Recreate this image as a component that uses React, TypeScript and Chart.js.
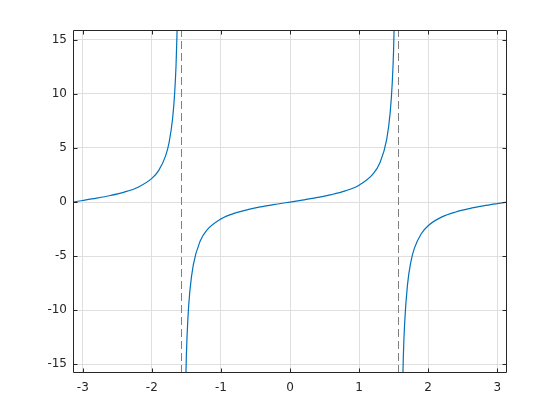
import React, { useEffect, useRef } from "react";
import { Chart, registerables } from "chart.js";

Chart.register(...registerables);

// Left branch (-pi .. -pi/2)
const leftX = [-3.1416, -3.0, -2.8, -2.6, -2.4, -2.2, -2.0, -1.9, -1.8, -1.75, -1.7, -1.67, -1.65, -1.63];
const leftY = [0, 0.1425, 0.3555, 0.6016, 0.916, 1.3738, 2.185, 2.927, 4.286, 5.52, 7.697, 10.05, 12.6, 16.87];
// Middle branch (-pi/2 .. pi/2)
const midX = [-1.52, -1.5, -1.48, -1.45, -1.4, -1.3, -1.2, -1.0, -0.8, -0.6, -0.4, -0.2, 0, 0.2, 0.4, 0.6, 0.8, 1.0, 1.2, 1.3, 1.4, 1.45, 1.48, 1.5, 1.52];
const midY = [-19.67, -14.1, -10.98, -8.238, -5.798, -3.602, -2.572, -1.557, -1.03, -0.684, -0.423, -0.203, 0, 0.203, 0.423, 0.684, 1.03, 1.557, 2.572, 3.602, 5.798, 8.238, 10.98, 14.1, 19.67];
// Right branch (pi/2 .. pi)
const rightX = [1.62, 1.64, 1.66, 1.7, 1.75, 1.8, 1.9, 2.0, 2.2, 2.4, 2.6, 2.8, 3.0, 3.1416];
const rightY = [-20.3, -14.43, -11.18, -7.697, -5.52, -4.286, -2.927, -2.185, -1.374, -0.916, -0.602, -0.356, -0.1425, 0];
// Vertical asymptotes
const asymptotes = [-1.5708, 1.5708];

const xTicks = [-3, -2, -1, 0, 1, 2, 3];
const yTicks = [-15, -10, -5, 0, 5, 10, 15];
const xRange = [-3.1416, 3.1416];
const yRange = [-15.8, 15.9];

const pts = (xs: number[], ys: number[]) => xs.map((x, i) => ({ x, y: ys[i] }));

const AXIS = "#262626";
const BLUE = "#0072BD";

const boxPlugin = {
  id: "boxTicks",
  afterDraw(chart: any) {
    const { ctx, chartArea: a, scales } = chart;
    ctx.save();
    ctx.strokeStyle = AXIS;
    ctx.lineWidth = 1;
    ctx.beginPath();
    const L = Math.round(a.left) + 0.5, R = Math.round(a.right) - 0.5;
    const T = Math.round(a.top) + 0.5, B = Math.round(a.bottom) - 0.5;
    ctx.rect(L, T, R - L, B - T);
    const tl = 4;
    for (const v of xTicks) {
      const px = Math.round(scales.x.getPixelForValue(v)) + 0.5;
      ctx.moveTo(px, B); ctx.lineTo(px, B - tl);
      ctx.moveTo(px, T); ctx.lineTo(px, T + tl);
    }
    for (const v of yTicks) {
      const py = Math.round(scales.y.getPixelForValue(v)) + 0.5;
      ctx.moveTo(L, py); ctx.lineTo(L + tl, py);
      ctx.moveTo(R, py); ctx.lineTo(R - tl, py);
    }
    ctx.stroke();
    ctx.restore();
  },
};

export default function App() {
  const ref = useRef<HTMLCanvasElement>(null);
  useEffect(() => {
    if (!ref.current) return;
    const curve = (xs: number[], ys: number[]) => ({
      data: pts(xs, ys),
      borderColor: BLUE,
      borderWidth: 1.2,
      pointRadius: 0,
      showLine: true,
      cubicInterpolationMode: "monotone" as const,
      fill: false,
    });
    const asym = (x: number) => ({
      data: [{ x, y: yRange[0] }, { x, y: yRange[1] }],
      borderColor: "#808080",
      borderWidth: 1,
      borderDash: [8, 4],
      pointRadius: 0,
      showLine: true,
      fill: false,
    });
    const chart = new Chart(ref.current, {
      type: "scatter",
      data: {
        datasets: [
          curve(leftX, leftY),
          curve(midX, midY),
          curve(rightX, rightY),
          ...asymptotes.map(asym),
        ] as any,
      },
      plugins: [boxPlugin],
      options: {
        responsive: false,
        animation: false,
        layout: { padding: { top: 30, right: 53, left: 0, bottom: 0 } },
        plugins: { legend: { display: false }, tooltip: { enabled: false } },
        scales: {
          x: {
            type: "linear",
            min: xRange[0],
            max: xRange[1],
            afterFit: (s: any) => { s.height = 47; },
            afterBuildTicks: (s: any) => { s.ticks = xTicks.map((v) => ({ value: v })); },
            ticks: {
              padding: 8,
              color: AXIS,
              font: { family: "DejaVu Sans", size: 12 },
              maxRotation: 0,
              autoSkip: false,
              callback: (v: any) => String(v),
            },
            grid: { color: "#dfdfdf", drawTicks: false, lineWidth: 1 },
            border: { display: false },
          },
          y: {
            type: "linear",
            min: yRange[0],
            max: yRange[1],
            afterFit: (s: any) => { s.width = 73; },
            afterBuildTicks: (s: any) => { s.ticks = yTicks.map((v) => ({ value: v })); },
            ticks: {
              padding: 6,
              color: AXIS,
              font: { family: "DejaVu Sans", size: 12 },
              autoSkip: false,
              callback: (v: any) => String(v),
            },
            grid: { color: "#dfdfdf", drawTicks: false, lineWidth: 1 },
            border: { display: false },
          },
        },
      },
    });
    return () => chart.destroy();
  }, []);
  return (
    <div style={{ position: "fixed", left: 0, top: 0, width: 560, height: 420, background: "#fff" }}>
      <canvas ref={ref} width={560} height={420} />
    </div>
  );
}
